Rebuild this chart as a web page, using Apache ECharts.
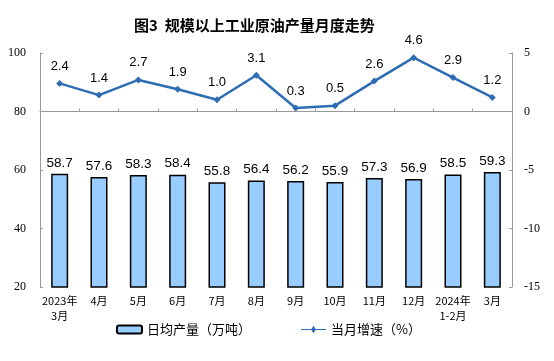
<!DOCTYPE html>
<html><head><meta charset="utf-8">
<script src="https://cdn.jsdelivr.net/npm/echarts@6/dist/echarts.min.js"></script>
<style>html,body{margin:0;padding:0;background:#fff}#c{width:554px;height:361px}</style>
</head><body><div id="c"></div>
<script>
var categories = ['2023年\n3月','4月','5月','6月','7月','8月','9月','10月','11月','12月','2024年\n1-2月','3月'];
var dailyOutput = [58.7,57.6,58.3,58.4,55.8,56.4,56.2,55.9,57.3,56.9,58.5,59.3];
var growthRate = [2.4,1.4,2.7,1.9,1.0,3.1,0.3,0.5,2.6,4.6,2.9,1.2];
var leftTicks = [20,40,60,80,100];
var rightTicks = [-15,-10,-5,0,5];

var chart = echarts.init(document.getElementById('c'));
var serif = '"Liberation Serif","Noto Sans CJK SC",serif';
var sans = '"Noto Sans CJK SC","Liberation Sans",sans-serif';
chart.setOption({
  animation:false,
  title:{text:'图3  规模以上工业原油产量月度走势',left:129,top:13,
    textStyle:{fontSize:15,fontWeight:'bold',color:'#000',fontFamily:sans}},
  grid:{left:40,right:42,top:53,bottom:74},
  legend:{bottom:20,left:111,itemGap:50,itemWidth:25,itemHeight:8,
    textStyle:{fontSize:13,color:'#000',fontFamily:sans},
    data:[{name:'日均产量（万吨）'},{name:'当月增速（%）',icon:'path://M0,4 L10,4 L12,1 L14,4 L24,4 L24,5 L14,5 L12,8 L10,5 L0,5 Z'}]},
  xAxis:{type:'category',data:categories,boundaryGap:true,
    axisLine:{lineStyle:{color:'#999'}},
    axisTick:{show:true,inside:true,length:3,lineStyle:{color:'#999'}},
    axisLabel:{fontSize:11,color:'#000',fontFamily:sans,lineHeight:15,margin:6,interval:0}},
  yAxis:[
    {type:'value',min:20,max:100,interval:20,splitLine:{show:false},
     axisLine:{show:true,lineStyle:{color:'#999'}},
     axisTick:{show:true,inside:true,length:3,lineStyle:{color:'#999'}},
     axisLabel:{fontSize:12,color:'#000',fontFamily:serif,margin:14,
       formatter:function(v){return leftTicks.indexOf(v)>=0?String(v):'';}}},
    {type:'value',min:-15,max:5,interval:5,splitLine:{show:false},
     axisLine:{show:true,lineStyle:{color:'#999'}},
     axisTick:{show:true,inside:true,length:3,lineStyle:{color:'#999'}},
     axisLabel:{fontSize:12,color:'#000',fontFamily:serif,margin:12,
       formatter:function(v){return rightTicks.indexOf(v)>=0?String(v):'';}}}
  ],
  series:[
    {name:'日均产量（万吨）',type:'bar',data:dailyOutput,barWidth:17,yAxisIndex:0,
     itemStyle:{color:'#99ccff',borderColor:'#000',borderWidth:1.5},
     label:{show:true,position:'top',fontSize:13.5,color:'#000',fontFamily:'"Liberation Sans",Arial,sans-serif',distance:4}},
    {name:'当月增速（%）',type:'line',data:growthRate,yAxisIndex:1,
     symbol:'diamond',symbolSize:7,
     lineStyle:{color:'#2e6db4',width:2.5},itemStyle:{color:'#2e6db4'},
     label:{show:true,position:'top',fontSize:13,color:'#000',distance:7,
       fontFamily:'"Liberation Sans",Arial,sans-serif',formatter:function(p){return p.value.toFixed(1);}}}
  ]
});
</script></body></html>
